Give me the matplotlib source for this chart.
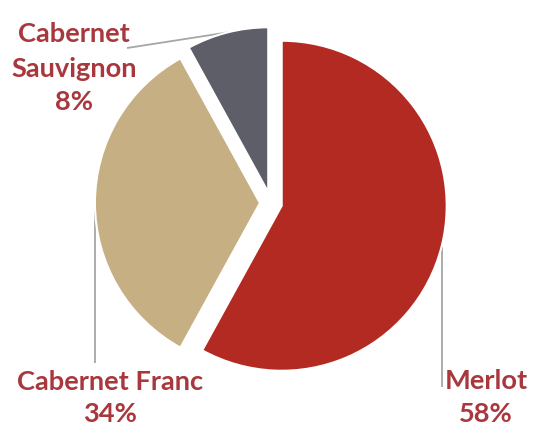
import matplotlib
matplotlib.use("Agg")
import matplotlib.pyplot as plt
import numpy as np

labels = ["Merlot", "Cabernet Franc", "Cabernet\nSauvignon"]
values = [58, 34, 8]
colors = ["#B22A22", "#C6AF82", "#5E5E68"]

W, H = 533, 425
R = 165.0  # pixels per unit
cx, cy = 271, 203
fig = plt.figure(figsize=(W / 100, H / 100), dpi=100)
ax = fig.add_axes([0, 0, 1, 1])

explode = [0.067, 0.067, 0.067]
wedges, _ = ax.pie(values, colors=colors, startangle=90, counterclock=False,
                   explode=explode, radius=1.0,
                   wedgeprops=dict(edgecolor="white", linewidth=1.5, zorder=3))
ax.set_aspect("auto")
ax.set_xlim(-cx / R, (W - cx) / R)
ax.set_ylim(-(H - cy) / R, cy / R)
ax.axis("off")


def px(x, y):
    return (x - cx) / R, (cy - y) / R


txt_color = "#A8383D"
font = dict(family=["Lato", "DejaVu Sans"], fontweight="bold", fontsize=19.6,
            color=txt_color, ha="center", va="baseline")

# label centre x and line baselines (pixels)
label_x = [486, 110, 74]
label_baselines = [[389, 422], [390, 422], [42, 77, 110]]
line_end = [(441, 387), (93, 363), (127, 48)]

total = sum(values)
for i, (w, v) in enumerate(zip(wedges, values)):
    mid = np.deg2rad((w.theta1 + w.theta2) / 2)
    ccx, ccy = w.center
    sx, sy = ccx + np.cos(mid), ccy + np.sin(mid)
    ex, ey = px(*line_end[i])
    if i in (0, 1):
        ex = sx
    ax.plot([sx, ex], [sy, ey], color="#A6A6A6", lw=1.3, zorder=1,
            solid_capstyle="butt")
    pct = round(v / total * 100)
    lines = labels[i].split("\n") + [f"{pct}%"]
    for line, b in zip(lines, label_baselines[i]):
        tx, ty = px(label_x[i], b)
        ax.text(tx, ty, line, **font)

fig.savefig("out.png", dpi=100, facecolor="white")
